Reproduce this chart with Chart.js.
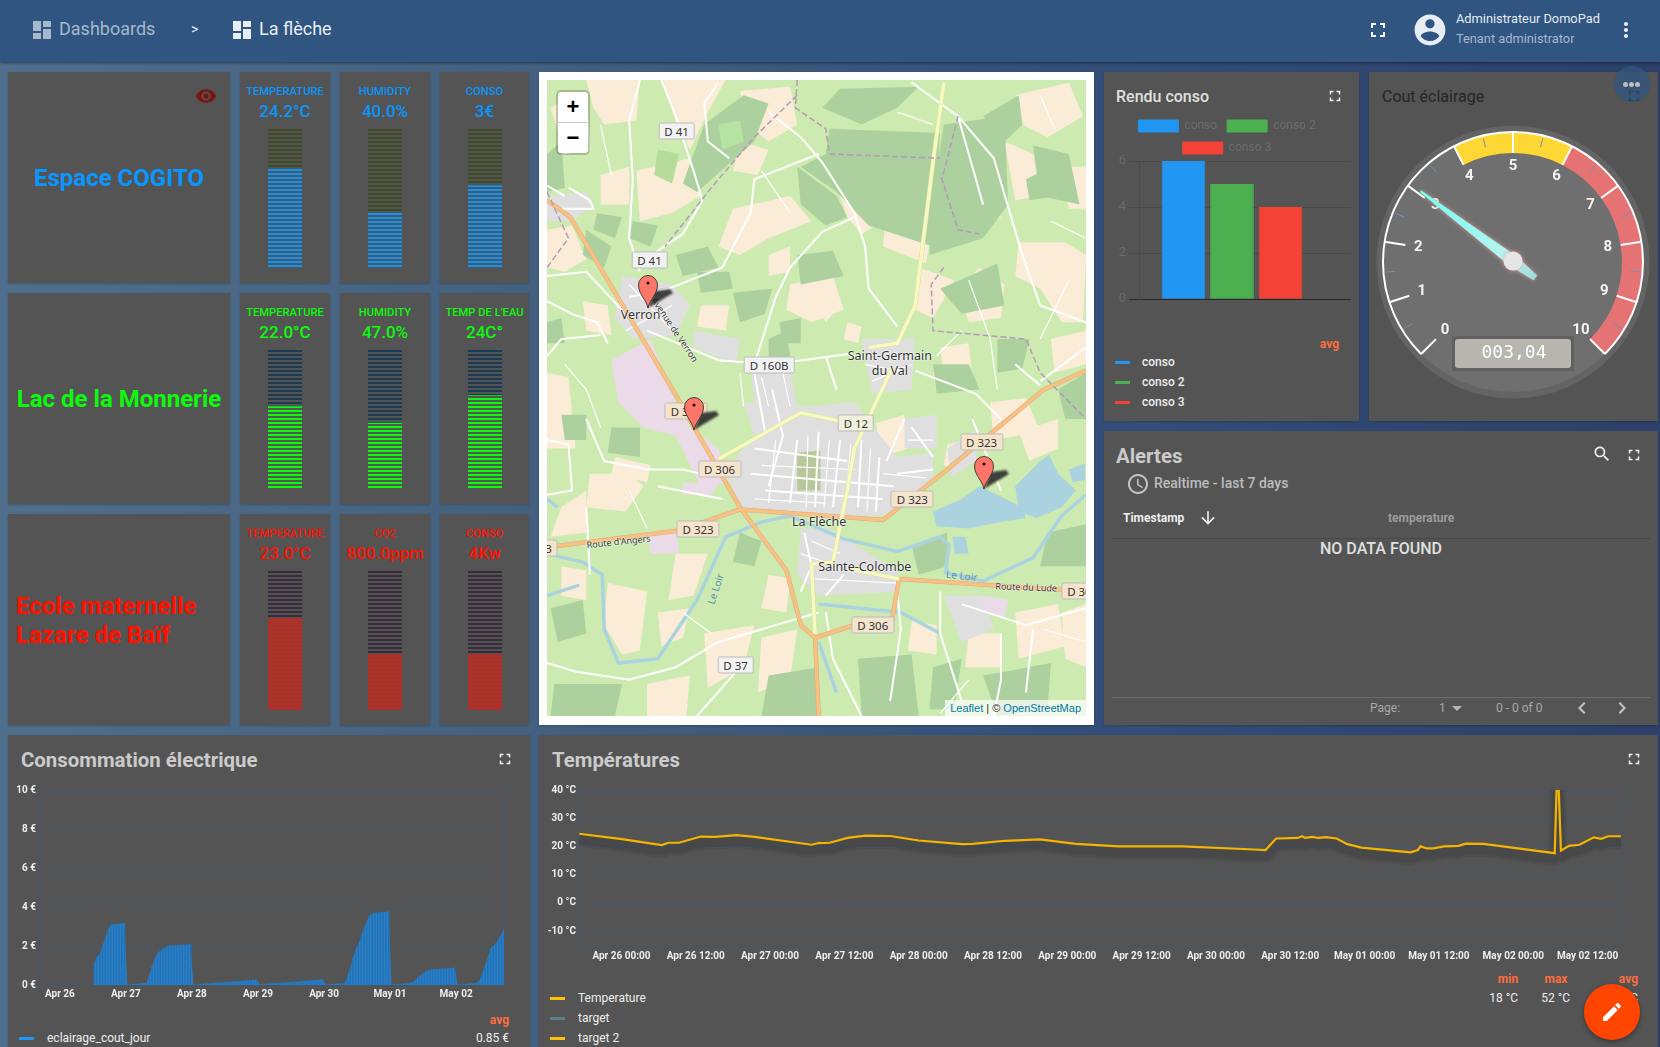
<!DOCTYPE html>
<html><head>
<meta charset="utf-8">
<title>La flèche</title>
<script src="https://cdn.jsdelivr.net/npm/chart.js@4"></script>
<style>
html,body{margin:0;padding:0;width:1660px;height:1047px;overflow:hidden;font-family:Roboto,sans-serif}
#page{position:absolute;left:0;top:0;width:1660px;height:1047px;overflow:hidden;background:linear-gradient(90deg,#4f6f8d 0,#456180 30%,#33507a 62%,#2c4069 100%)}
#top{position:absolute;left:0;top:0;width:1660px;height:62px;background:#2f5580;box-shadow:0 1px 3px rgba(0,0,0,.45)}
.card{position:absolute;background:#535453;box-shadow:0 1px 2px rgba(0,0,0,.2)}
.t{position:absolute;white-space:nowrap;transform:translateY(-50%);line-height:1}
.c{transform:translate(-50%,-50%)}
.r{transform:translate(-100%,-50%)}
canvas{position:absolute;display:block}
svg.i{position:absolute;transform:translate(-50%,-50%)}
#map{position:absolute;left:547px;top:80px;width:539px;height:636px;overflow:hidden;background:#cdebb0}
#map svg{position:absolute}
#map path,#map polyline{vector-effect:non-scaling-stroke}
.shield{position:absolute;transform:translate(-50%,-50%);font:11.5px "Noto Sans";color:#333;padding:0 5px;height:15px;line-height:15px;border:1px solid #bbb;border-radius:2px;white-space:nowrap}
.place{position:absolute;transform:translate(-50%,-50%);font:12.5px "Noto Sans";color:#333;white-space:nowrap;text-shadow:0 0 2px #fff,0 0 2px #fff}
</style>
</head><body>
<div id="page">
<div id="top"></div>
<div class="card" style="left:539px;top:72px;width:555px;height:653px;background:#fff"></div>
<div id="map"><svg viewBox="20 24 1508 1512" preserveAspectRatio="none" style="left:0;top:0;width:539px;height:636px">
<g fill="#fbecd7">
<path d="M130 24L280 24 270 120 180 130 150 90Z"/><path d="M345 24L520 24 470 100 420 190 380 120Z"/><path d="M560 50L700 40 720 130 640 170 580 130Z"/>
<path d="M20 380L90 370 130 450 70 480 20 470Z"/><path d="M270 240L420 210 450 300 370 340 280 360Z"/><path d="M540 330L700 300 760 360 640 400 560 440 500 420Z"/>
<path d="M840 300L920 270 980 350 900 390 860 350Z"/><path d="M970 330L1100 360 1080 460 960 420Z"/><path d="M700 510L820 490 850 570 760 600 690 570Z"/>
<path d="M1060 470L1160 500 1100 590 1050 570Z"/><path d="M1180 280L1260 290 1290 350 1220 370Z"/><path d="M1330 60L1480 30 1520 110 1420 160 1350 130Z"/>
<path d="M1340 410L1470 410 1528 440 1520 600 1460 600 1400 520 1330 490Z"/><path d="M1230 470L1300 510 1290 590 1200 600 1170 520Z"/><path d="M1300 170L1380 200 1400 300 1330 310Z"/>
<path d="M20 720L80 730 100 900 20 900Z"/><path d="M140 960L250 960 290 990 240 1050 130 1040Z"/><path d="M60 1040L130 1000 130 1100 30 1110Z"/>
<path d="M190 1220L300 1240 280 1380 230 1390 180 1320Z"/><path d="M380 1150L470 1150 430 1250 360 1260Z"/><path d="M460 1340L600 1320 570 1420 470 1470Z"/>
<path d="M620 1350L720 1330 700 1450 610 1480Z"/><path d="M1330 1290L1450 1270 1470 1370 1340 1400Z"/><path d="M1460 1290L1528 1270 1528 1420 1470 1400Z"/>
<path d="M1260 790L1360 780 1400 860 1270 880Z"/><path d="M1430 640L1528 620 1528 700 1440 720Z"/><path d="M1000 360L1060 340 1090 400 1040 420Z"/>
<path d="M760 540L800 510 840 560 800 600Z"/><path d="M940 840L1020 820 1030 900 960 920Z"/><path d="M1120 660L1200 650 1210 730 1130 740Z"/>
<path d="M1100 720L1200 680 1180 760 1110 770Z"/><path d="M30 90L100 60 120 140 60 170Z"/><path d="M640 440L700 420 700 480 640 490Z"/><path d="M560 170L640 190 610 250 540 240Z"/><path d="M170 250L250 230 250 320 170 320Z"/><path d="M120 550L190 560 200 630 130 620Z"/>
<path d="M450 560L530 560 520 620 440 610Z"/><path d="M860 600L900 610 890 650 850 640Z"/><path d="M1140 890L1190 880 1160 950 1130 940Z"/><path d="M60 1180L130 1190 130 1260 60 1250Z"/><path d="M640 1200L700 1210 690 1290 620 1280Z"/><path d="M330 1290L420 1280 400 1350 340 1370Z"/>
<path d="M1200 1340L1290 1340 1290 1420 1190 1420Z"/><path d="M1040 1310L1110 1320 1110 1390 1030 1380Z"/><path d="M300 1460L420 1440 410 1536 300 1536Z"/><path d="M1340 860L1450 830 1450 900 1370 930Z"/><path d="M1460 230L1528 230 1528 330 1480 330Z"/><path d="M210 920L310 940 300 980 200 960Z"/>
</g>
<g fill="#add19e">
<path d="M810 140L1120 150 1100 420 920 370 830 290 730 230 800 200Z"/><path d="M1130 130L1300 110 1310 320 1240 400 1090 440 1100 300Z"/><path d="M20 200L60 170 70 280 20 290Z"/>
<path d="M460 130L570 60 640 80 600 170 520 230 440 290 400 270Z"/><path d="M840 45L1060 40 1000 90 900 130 790 90Z"/><path d="M260 360L330 370 310 420 250 400Z"/>
<path d="M160 340L230 350 210 400 150 380Z"/><path d="M380 440L470 420 500 470 400 490Z"/><path d="M540 530L650 520 630 580 560 600Z"/><path d="M720 440L820 430 850 490 730 510Z"/>
<path d="M200 850L280 850 280 920 190 910Z"/><path d="M30 1280L120 1260 130 1340 50 1360Z"/><path d="M1380 180L1480 200 1510 320 1400 300Z"/><path d="M1120 520L1280 460 1300 560 1180 580Z"/>
<path d="M1040 1130L1140 1100 1140 1180 1060 1200Z"/><path d="M1420 1100L1528 1080 1528 1180 1400 1180Z"/><path d="M640 1440L780 1420 780 1536 620 1536Z"/><path d="M40 1460L230 1460 210 1536 30 1536Z"/>
<path d="M890 1400L1040 1390 1060 1536 900 1536Z"/><path d="M1240 1440L1430 1410 1420 1520 1280 1536Z"/><path d="M1100 700L1200 700 1230 760 1110 770Z"/><path d="M60 820L130 820 130 880 70 880Z"/>
<path d="M1360 260L1430 230 1450 300 1370 310Z"/><path d="M1450 760L1528 720 1528 830 1470 830Z"/><path d="M670 600L730 590 730 650 680 650Z"/><path d="M560 1100L620 1120 600 1180 540 1170Z"/><path d="M20 600L60 590 70 650 20 650Z"/><path d="M1280 640L1370 640 1350 710 1280 720Z"/><path d="M440 480L530 480 540 520 450 530Z"/><path d="M1100 1420L1180 1400 1160 1520 1090 1520Z"/>
<path d="M720 230L830 300 860 350 800 370 730 320Z"/><path d="M1240 110L1340 60 1350 130 1300 170Z"/><path d="M640 640L690 620 700 680 640 690Z"/><path d="M130 380L200 420 180 470 120 440Z"/>
<path d="M330 190L390 200 370 270 320 250Z" fill="#b5dc9a"/><path d="M500 130L560 120 570 170 510 190Z" fill="#b5e3a3"/>
</g>
<g fill="#e0dfdf">
<path d="M570 790L750 800 880 790 1000 920 1100 910 1100 980 980 1060 840 1060 560 1040 520 950 600 870Z"/><path d="M730 1090L810 1090 1000 1190 1010 1240 780 1250 720 1200Z"/>
<path d="M230 490L370 510 420 560 380 630 260 640 210 590Z"/><path d="M900 640L1050 640 1040 760 930 770Z"/><path d="M430 620L560 640 550 700 430 660Z"/><path d="M1130 1250L1240 1250 1270 1330 1180 1360Z"/><path d="M1020 830L1110 820 1110 900 1020 900Z"/><path d="M1140 900L1230 850 1220 930 1150 970Z"/><path d="M20 300L130 290 150 320 90 360 20 360Z"/><path d="M590 710L700 710 720 800 600 790Z"/>
</g>
<g fill="#ebdbe8">
<path d="M200 690L310 640 380 790 420 850 500 900 530 980 450 990 380 870 290 850 220 790Z"/><path d="M400 980L500 985 480 1010 400 1010Z"/><path d="M300 1100L380 1090 390 1150 310 1150Z"/><path d="M1240 1250L1310 1260 1300 1300 1240 1290Z"/>
</g>
<g fill="#b9c89a"><path d="M720 910L785 905 785 1000 720 1000Z"/></g>
<g fill="#aad3df">
<path d="M1100 1050L1180 1020 1230 990 1280 1010 1350 1040 1360 1065 1290 1075 1200 1090 1110 1085Z"/><path d="M1330 990L1400 930 1425 915 1450 960 1500 1000 1460 1040 1390 1065 1340 1050Z"/><path d="M1480 950L1525 935 1525 975 1490 980Z"/><path d="M1155 1110L1190 1110 1200 1150 1160 1150Z"/>
</g>
<g fill="none" stroke="#aad3df" stroke-width="3.5">
<path d="M20 1150L120 1170 175 1200 180 1330 220 1410 330 1400 440 1260 520 1110 620 1075 700 1060 850 1115 1000 1145 1120 1110 1145 1130 1135 1195 1240 1215 1380 1160 1460 1060 1528 1010"/>
<path d="M20 1250L110 1225M780 1270L1010 1290 1120 1340M20 1020L50 1040M780 1360L830 1480"/>
</g>
<g fill="none" stroke="#fff" stroke-width="2">
<path d="M340 24L380 110 430 240 455 310 400 390 330 430 300 470"/><path d="M280 24L250 120 260 260 250 400 280 480"/><path d="M20 275L70 300M80 280L140 310 150 330 60 330"/><path d="M500 30L460 80 470 170 530 210"/>
<path d="M640 100L730 160 790 220 880 340 910 420 920 520 1000 610"/><path d="M880 350L790 385 700 470 660 540 600 700"/><path d="M780 200L600 260 590 340 510 470 360 520 250 540"/><path d="M1040 30L1170 110 1270 210 1350 440 1400 560 1528 600"/>
<path d="M1170 110L1240 320"/><path d="M300 620L500 690 650 700 870 675"/><path d="M1050 715L1220 770 1290 830"/><path d="M20 490L130 480 240 580"/><path d="M20 550L90 580 160 600 190 650"/><path d="M20 680L60 640 170 630"/><path d="M130 830L180 930 300 950 400 950 450 960"/>
<path d="M20 880L80 890 90 1000 20 1010"/><path d="M130 1040L140 1200M330 990L510 1020"/><path d="M20 1410L100 1430 250 1450 380 1420 500 1360 660 1320 780 1290"/><path d="M440 1536L560 1420"/><path d="M1120 1240L1120 1340 1180 1500"/><path d="M1180 1270L1360 1320 1528 1280"/>
<path d="M1000 1240L1010 1330 980 1500"/><path d="M800 1290L820 1400 900 1536"/><path d="M1290 1340L1290 1450 1270 1536"/><path d="M1380 1330L1360 1480"/><path d="M1210 830L1290 1000M1020 830L970 930"/><path d="M800 680L830 760"/><path d="M1400 740L1528 660"/>
<path d="M600 720L630 860M650 760L680 870 640 990M720 880L700 1030M780 860L770 1040M840 880L820 1040M900 880L890 1040M950 920L940 1050M600 900L860 930M590 960L990 990M630 1000L960 1020M1000 960L1100 950M1040 850L1100 920"/>
<path d="M740 1100L760 1180 730 1240M850 1200L800 1250M1330 700L1400 750"/>
</g>
<g fill="none" stroke="#fff" stroke-width="1.2">
<path d="M560 720L570 800M620 730L640 800M680 720L700 800M660 880L640 1030M750 870L745 1040M810 880L795 1040M870 890L855 1040M925 900L915 1050M620 940L880 950M600 1020L800 1030M960 960L1080 970M990 1000L1070 1000M1030 880L1100 880"/>
<path d="M760 1120L840 1150M770 1210L1000 1220M730 1150L830 1180M910 700L1030 720M930 740L1040 700M250 510L370 620M240 620L370 560"/>
<path d="M60 200L140 190 130 60M170 130L200 250M620 240L700 340M1000 100L1100 130M1200 500L1260 640 1280 760M1430 360L1528 400M1440 140L1400 60M1480 500L1400 640M1180 620L1110 680M70 700L130 760 170 850M250 1000L300 1090M400 1290L480 1340M1410 1330L1528 1360M1200 1450L1120 1530"/>
</g>
<g fill="none" stroke-linejoin="round">
<path stroke="#d9ad7a" stroke-width="4.5" d="M20 310L85 350 260 600 385 780 560 1040 690 1190 730 1320 770 1350 780 1536M20 1135L390 1095 560 1045 960 1070 1140 950 1410 760 1528 715M1000 1210L1528 1240M770 1350L880 1320 985 1310 1005 1210"/>
<path stroke="#f9c083" stroke-width="3.5" d="M20 310L85 350 260 600 385 780 560 1040 690 1190 730 1320 770 1350 780 1536M20 1135L390 1095 560 1045 960 1070 1140 950 1410 760 1528 715M1000 1210L1528 1240M770 1350L880 1320 985 1310 1005 1210"/>
<path stroke="#dadda6" stroke-width="4.5" d="M1130 30L1100 220 1050 560 1000 650 920 660M985 710L880 900 860 1000 820 1170 760 1175 770 1340M500 925L730 815 840 835M1005 1210L860 1185"/>
<path stroke="#f7fabf" stroke-width="3.5" d="M1130 30L1100 220 1050 560 1000 650 920 660M985 710L880 900 860 1000 820 1170 760 1175 770 1340M500 925L730 815 840 835M1005 1210L860 1185"/>
</g>
<g fill="none" stroke="#b59ab8" stroke-width="1.5" stroke-dasharray="6 3">
<path d="M720 24L715 90 800 140 810 200 1120 210M1170 110L1125 260 1170 380 1230 390M1130 470L1095 510 1100 620 1360 640 1400 720 1528 830M20 290L80 400 20 470M720 60L600 160 480 280 350 420"/>
</g>
</svg></div>
<div id="labels"></div>
</div>
<script>
// ---- data ----
const tileTitles = ['Espace COGITO', 'Lac de la Monnerie', 'Ecole maternelle', 'Lazare de Baïf'];
const tileLabels = [['TEMPERATURE', 'HUMIDITY', 'CONSO'], ['TEMPERATURE', 'HUMIDITY', 'TEMP DE L\'EAU'], ['TEMPERATURE', 'CO2', 'CONSO']];
const tileValues = [['24.2°C', '40.0%', '3€'], ['22.0°C', '47.0%', '24C°'], ['23.0°C', '800.0ppm', '4Kw']];
const tileLevels = [[71, 39, 59], [59, 47, 67], [65, 39, 39]];
const tileColors = ['#0a96ff', '#0dfa0d', '#ff1100'];
const tileTracks = ['#3e4a22', '#1b3a55', '#3a2a3e'];

const renduNames = ['conso', 'conso 2', 'conso 3'];
const renduValues = [6, 5, 4];
const renduColors = ['#2196f3', '#4caf50', '#f44336'];

const gaugeValue = 3.04;
const gaugeTicks = [0, 1, 2, 3, 4, 5, 6, 7, 8, 9, 10];
const gaugeZones = [4, 2, 4];
const gaugeZoneColors = ['rgba(0,0,0,0)', '#fdd835', '#e57373'];

// cost per hour, from Apr 26 12:00 (hours counted from Apr 26 00:00)
const consFirstHour = 12;
const consValues = [
  1.1, 1.45, 1.6, 2.0, 2.4, 2.8, 3.1, 3.12, 3.13, 3.14, 3.16, 3.18,
  0.02, 0.03, 0.04, 0.05, 0.07, 0.08, 0.09, 0.1, 0.5, 0.95, 1.35, 1.65, 1.75, 1.85, 1.95, 2.0, 2.02, 2.03, 2.04, 2.05, 2.06, 2.07, 2.08, 2.1,
  0.02, 0.03, 0.04, 0.05, 0.06, 0.07, 0.08, 0.09, 0.11, 0.12, 0.13, 0.14, 0.15, 0.16, 0.17, 0.18, 0.19, 0.2, 0.21, 0.22, 0.24, 0.25, 0.26, 0.28,
  0.02, 0.03, 0.05, 0.06, 0.07, 0.08, 0.09, 0.1, 0.11, 0.13, 0.14, 0.14, 0.16, 0.17, 0.18, 0.19, 0.2, 0.21, 0.22, 0.24, 0.25, 0.26, 0.27, 0.29,
  0.02, 0.03, 0.04, 0.05, 0.06, 0.07, 0.08, 0.08, 0.45, 0.85, 1.4, 1.8, 2.1, 2.5, 2.9, 3.25, 3.55, 3.65, 3.7, 3.72, 3.73, 3.74, 3.75, 3.77,
  0.02, 0.03, 0.04, 0.05, 0.06, 0.07, 0.09, 0.12, 0.15, 0.3, 0.45, 0.55, 0.65, 0.72, 0.78, 0.8, 0.81, 0.82, 0.83, 0.84, 0.85, 0.86, 0.87, 0.88,
  0.02, 0.03, 0.04, 0.05, 0.06, 0.08, 0.09, 0.1, 0.25, 0.6, 1.0, 1.4, 1.85, 2.0, 2.15, 2.4, 2.6, 2.9
];
const consTickHours = [0, 24, 48, 72, 96, 120, 144];
const consTickLabels = ['Apr 26', 'Apr 27', 'Apr 28', 'Apr 29', 'Apr 30', 'May 01', 'May 02'];
const consYTicks = [0, 2, 4, 6, 8, 10];

const tempHours = [-6.8, 0.1, 6.5, 7.6, 9.3, 12.8, 15.1, 18.6, 21.5, 30.7, 31.8, 33.6, 36.5, 39.4, 43.4, 48, 55, 56.7, 61.9, 67.6, 73.4, 80.3, 90.7, 102.2, 104, 105.7, 109.2, 109.9, 110.4, 111.6, 112.5, 113.8, 115.5, 117.2, 119.5, 127.4, 128.6, 129, 130, 131.1, 132.8, 135.2, 136.3, 139.2, 150.7, 151.15, 151.7, 153, 154.7, 157, 158.2, 159.3, 161.4];
const tempValues = [24.5, 22.6, 20.5, 21.3, 21.3, 23.5, 23.4, 24, 23.4, 20.6, 21.2, 21.3, 23, 23.8, 23.7, 22.1, 20.8, 20.9, 22, 22.5, 20.9, 20, 20, 18.9, 18.7, 22.8, 23, 23.6, 23, 23.4, 23, 23.3, 22.8, 20.8, 19.6, 17.9, 18.7, 20, 19.3, 19.3, 20, 20.2, 21, 20.9, 17.6, 52, 18.5, 20.2, 20.6, 23.2, 22.7, 23.6, 23.6];
const tempTickHours = [0, 12, 24, 36, 48, 60, 72, 84, 96, 108, 120, 132, 144, 156];
const tempTickLabels = ['Apr 26 00:00', 'Apr 26 12:00', 'Apr 27 00:00', 'Apr 27 12:00', 'Apr 28 00:00', 'Apr 28 12:00', 'Apr 29 00:00', 'Apr 29 12:00', 'Apr 30 00:00', 'Apr 30 12:00', 'May 01 00:00', 'May 01 12:00', 'May 02 00:00', 'May 02 12:00'];
const tempYTicks = [-10, 0, 10, 20, 30, 40];

// ---- small helpers ----
const page = document.getElementById('page');
const ICONS = {
  full: 'M7 14H5v5h5v-2H7v-3zm-2-4h2V7h3V5H5v5zm12 7h-3v2h5v-5h-2v3zM14 5v2h3v3h2V5h-5z',
  dash: 'M3 13h8V3H3v10zm0 8h8v-6H3v6zm10 0h8V11h-8v10zm0-18v6h8V3h-8z',
  search: 'M15.5 14h-.79l-.28-.27C15.41 12.59 16 11.11 16 9.5 16 5.91 13.09 3 9.5 3S3 5.91 3 9.5 5.91 16 9.5 16c1.61 0 3.09-.59 4.23-1.57l.27.28v.79l5 4.99L20.49 19l-4.99-5zm-6 0C7.01 14 5 11.99 5 9.5S7.01 5 9.5 5 14 7.01 14 9.5 11.99 14 9.5 14z',
  clock: 'M11.99 2C6.47 2 2 6.48 2 12s4.47 10 9.99 10C17.52 22 22 17.52 22 12S17.52 2 11.99 2zM12 20c-4.42 0-8-3.58-8-8s3.58-8 8-8 8 3.58 8 8-3.58 8-8 8zm.5-13H11v6l5.25 3.15.75-1.23-4.5-2.67z',
  down: 'M20 12l-1.41-1.41L13 16.17V4h-2v12.17l-5.58-5.59L4 12l8 8 8-8z',
  pencil: 'M3 17.25V21h3.75L17.81 9.94l-3.75-3.75L3 17.25zM20.71 7.04c.39-.39.39-1.02 0-1.41l-2.34-2.34c-.39-.39-1.02-.39-1.41 0l-1.83 1.83 3.75 3.75 1.83-1.83z',
  eye: 'M12 4.5C7 4.5 2.73 7.61 1 12c1.73 4.39 6 7.5 11 7.5s9.27-3.11 11-7.5c-1.73-4.39-6-7.5-11-7.5zM12 17c-2.76 0-5-2.24-5-5s2.24-5 5-5 5 2.24 5 5-2.24 5-5 5zm0-8c-1.66 0-3 1.34-3 3s1.34 3 3 3 3-1.34 3-3-1.34-3-3-3z',
  dots: 'M12 8c1.1 0 2-.9 2-2s-.9-2-2-2-2 .9-2 2 .9 2 2 2zm0 2c-1.1 0-2 .9-2 2s.9 2 2 2 2-.9 2-2-.9-2-2-2zm0 6c-1.1 0-2 .9-2 2s.9 2 2 2 2-.9 2-2-.9-2-2-2z',
  user: 'M12 2C6.48 2 2 6.48 2 12s4.48 10 10 10 10-4.48 10-10S17.52 2 12 2zm0 3c1.66 0 3 1.34 3 3s-1.34 3-3 3-3-1.34-3-3 1.34-3 3-3zm0 14.2c-2.5 0-4.71-1.28-6-3.22.03-1.99 4-3.08 6-3.08 1.99 0 5.97 1.09 6 3.08-1.29 1.94-3.5 3.22-6 3.22z',
  left: 'M15.41 7.41L14 6l-6 6 6 6 1.41-1.41L10.83 12z',
  right: 'M10 6L8.59 7.41 13.17 12l-4.58 4.59L10 18l6-6z'
};
function card(x, y, w, h) {
  const d = document.createElement('div');
  d.className = 'card';
  d.style.cssText = `left:${x}px;top:${y}px;width:${w}px;height:${h}px`;
  page.appendChild(d);
}
function txt(x, y, s, css, cls) {
  const d = document.createElement('div');
  d.className = 't ' + (cls || '');
  d.textContent = s;
  d.style.cssText = `left:${x}px;top:${y}px;${css || ''}`;
  page.appendChild(d);
  return d;
}
function icon(name, x, y, size, color) {
  page.insertAdjacentHTML('beforeend', `<svg class="i" style="left:${x}px;top:${y}px" width="${size}" height="${size}" viewBox="0 0 24 24"><path fill="${color}" d="${ICONS[name]}"/></svg>`);
}
function box(x, y, w, h, color) {
  const d = document.createElement('div');
  d.style.cssText = `position:absolute;left:${x}px;top:${y}px;width:${w}px;height:${h}px;background:${color}`;
  page.appendChild(d);
}
function addCanvas(x, y, w, h) {
  const c = document.createElement('canvas');
  c.width = w; c.height = h;
  c.style.cssText = `left:${x}px;top:${y}px;width:${w}px;height:${h}px`;
  page.appendChild(c);
  return c;
}
function stripes(ctx, color) {
  const p = document.createElement('canvas');
  p.width = 4; p.height = 4;
  const g = p.getContext('2d');
  g.fillStyle = color;
  g.fillRect(0, 0, 4, 2);
  return ctx.createPattern(p, 'repeat');
}

Chart.defaults.font.family = 'Roboto';
Chart.defaults.animation = false;

// ---- header ----
icon('dash', 42, 30, 24, '#a6b8cd');
txt(59, 29, 'Dashboards', 'font-size:18px;color:#a6b8cd');
txt(191, 29, '>', 'font-size:14px;color:#e8eef5');
icon('dash', 242, 30, 24, '#e8eef5');
txt(259, 29, 'La flèche', 'font-size:18px;color:#e8eef5');
icon('full', 1378, 30, 24, '#f4f6f9');
icon('user', 1430, 30, 37, '#e8edf4');
txt(1456, 19, 'Administrateur DomoPad', 'font-size:12.8px;color:#e4eaf2');
txt(1456, 38.5, 'Tenant administrator', 'font-size:12.8px;color:#a6b8cd');
icon('dots', 1626, 30, 24, '#f0f3f7');

// ---- left tiles ----
const rowTops = [72, 293, 514];
const tileXs = [240, 340, 440];
const tileWs = [90, 90, 89];
rowTops.forEach((top, r) => {
  card(8, top, 222, 211);
  tileXs.forEach((x, i) => {
    card(x, top, tileWs[i], 211);
    const mid = x + tileWs[i] / 2;
    txt(mid, top + 20, tileLabels[r][i], `font-size:11.2px;font-weight:500;color:${tileColors[r]}`, 'c');
    txt(mid, top + 39, tileValues[r][i], `font-size:17px;font-weight:500;color:${tileColors[r]}`, 'c');
    const cv = addCanvas(mid - 17, top + 57, 34, 138);
    const ctx = cv.getContext('2d');
    new Chart(cv, {
      type: 'bar',
      data: {
        labels: [tileLabels[r][i]],
        datasets: [
          { data: [tileLevels[r][i]], backgroundColor: stripes(ctx, tileColors[r]), barPercentage: 1, categoryPercentage: 1 },
          { data: [100 - tileLevels[r][i]], backgroundColor: stripes(ctx, tileTracks[r]), barPercentage: 1, categoryPercentage: 1 }
        ]
      },
      options: {
        responsive: false,
        plugins: { legend: { display: false }, tooltip: { enabled: false } },
        scales: { x: { display: false, stacked: true }, y: { display: false, stacked: true, min: 0, max: 100 } }
      }
    });
  });
});
txt(119, 178, tileTitles[0], 'font-size:24px;font-weight:700;color:#0a96ff', 'c');
txt(119, 399, tileTitles[1], 'font-size:24px;font-weight:700;color:#0dfa0d', 'c');
txt(16, 606, tileTitles[2], 'font-size:24px;font-weight:700;color:#ff1100');
txt(16, 635, tileTitles[3], 'font-size:24px;font-weight:700;color:#ff1100');
icon('eye', 206, 96, 22, '#7b1512');

// ---- map labels, pins, zoom control ----
const mapEl = document.getElementById('map');
const mx = z => (z - 20) / 2.8;
const my = z => (z - 24) / 2.376;
[['D 41', 383, 145, 0], ['D 41', 307, 452, 0], ['D 160B', 642, 701, 0], ['D 306', 410, 811, 1], ['D 12', 885, 840, 2], ['D 323', 1237, 884, 1], ['D 306', 503, 949, 1], ['D 323', 1043, 1020, 1], ['D 323', 443, 1091, 1], ['D 323', -10, 1136, 1], ['D 306', 932, 1319, 1], ['D 37', 548, 1414, 0], ['D 306', 1520, 1237, 1]].forEach(s => {
  const bg = ['#f2f2f2', '#f5e3cc', '#f0f0dc'][s[3]];
  mapEl.insertAdjacentHTML('beforeend', `<div class="shield" style="left:${mx(s[1])}px;top:${my(s[2])}px;background:${bg}">${s[0]}</div>`);
});
[['Verron', 282, 580, ''], ['Saint-Germain', 980, 677, ''], ['du Val', 980, 713, ''], ['La Flèche', 782, 1072, ''], ['Sainte-Colombe', 910, 1178, ''],
 ["Route d'Angers", 222, 1113, 'font-size:9px;rotate:-6deg'], ['Route du Lude', 1360, 1232, 'font-size:9px;rotate:2deg'], ['Avenue de Verron', 318, 685, 'font-size:9px;rotate:56deg'],
 ['Le Loir', 480, 1185, 'font-size:10px;color:#5a8fb0;rotate:-72deg;text-shadow:none'], ['Le Loir', 1178, 1205, 'font-size:10px;color:#5a8fb0;rotate:6deg;text-shadow:none']].forEach(s => {
  mapEl.insertAdjacentHTML('beforeend', `<div class="place" style="left:${mx(s[1])}px;top:${my(s[2])}px;${s[3]}">${s[0]}</div>`);
});
[[303, 565], [432, 855], [1244, 995]].forEach(p => {
  mapEl.insertAdjacentHTML('beforeend', `<svg style="left:${mx(p[0]) - 11}px;top:${my(p[1]) - 34}px;width:40px;height:36px" viewBox="0 0 40 36"><path d="M11 34L36 19 33 15 18 17Z" fill="#222" opacity=".85" style="filter:blur(1.2px)"/><path d="M11 34C9 25 1.500 20 1.500 11A9.500 9.500 0 0 1 20.500 11C20.500 20 13 25 11 34Z" fill="#fe7569" stroke="#222" stroke-width=".8"/><circle cx="11" cy="9" r="1.600" fill="#111"/></svg>`);
});
mapEl.insertAdjacentHTML('beforeend', `<div style="position:absolute;left:11px;top:12px;width:30px;height:61px;background:#fff;border-radius:3px;box-shadow:0 0 0 2px rgba(0,0,0,.2);font:700 22px 'Liberation Sans';color:#000;text-align:center;line-height:30px"><div style="height:30px;border-bottom:1px solid #ccc">+</div><div>−</div></div>
<div style="position:absolute;right:0;bottom:0;height:16px;line-height:16px;padding:0 5px;background:rgba(255,255,255,.7);font:11px/16px 'Liberation Sans';color:#333"><span style="color:#0078a8">Leaflet</span> | © <span style="color:#0078a8">OpenStreetMap</span></div>`);

// ---- rendu conso ----
card(1104, 72, 255, 349);
txt(1116, 97, 'Rendu conso', 'font-size:16px;font-weight:500;color:#e0e0e0');
icon('full', 1335, 96, 18, '#eee');
const renduCv = addCanvas(1103, 110, 248, 200);
const renduChart = new Chart(renduCv, {
  type: 'bar',
  data: {
    datasets: renduNames.map((n, i) => ({
      label: n,
      data: [{ x: 1, y: renduValues[i] }],
      backgroundColor: renduColors[i],
      borderColor: renduColors[i],
      borderWidth: 1,
      categoryPercentage: 0.687,
      barPercentage: 0.9
    }))
  },
  options: {
    responsive: false,
    layout: { autoPadding: false, padding: { bottom: 2 } },
    plugins: {
      tooltip: { enabled: false },
      legend: { position: 'top', labels: { color: '#6b6d6b', font: { size: 12 }, boxWidth: 40, boxHeight: 12 } }
    },
    scales: {
      x: {
        type: 'linear', offset: false, min: 0, max: 2.28, display: false, grid: { offset: false },
        afterBuildTicks(a) { a.ticks = [{ value: 0 }, { value: 2.28 }]; }
      },
      y: {
        min: 0, max: 6,
        afterFit(a) { a.width = 36; },
        afterBuildTicks(a) { a.ticks = [0, 2, 4, 6].map(v => ({ value: v })); },
        ticks: { color: '#6b6d6b', font: { size: 13 } },
        border: { color: 'rgba(0,0,0,.1)' },
        grid: { color: c => c.tick.value === 0 ? 'rgba(0,0,0,.55)' : 'rgba(0,0,0,.13)', tickLength: 10 }
      }
    }
  }
});
// the legend sits a little tighter on the plot than chart.js leaves it
const legendFit = renduChart.legend.fit;
renduChart.legend.fit = function () { legendFit.call(this); this.height -= 3; };
renduChart.update();
txt(1339, 344, 'avg', 'font-size:12px;font-weight:700;color:#ff6e40', 'r');
renduNames.forEach((n, i) => {
  box(1115, 361 + i * 20, 15, 3, renduColors[i]);
  txt(1142, 362 + i * 20, n, 'font-size:12px;font-weight:500;color:#eee');
});

// ---- gauge ----
card(1369, 72, 289, 349);
txt(1382, 97, 'Cout éclairage', 'font-size:16px;color:#262626');
const gaugeAngle = v => (-135 + v * 27 - 90) * Math.PI / 180;
const gaugeDressing = {
  id: 'gaugeDressing',
  beforeDatasetsDraw(chart) {
    const { ctx } = chart;
    const { x: cx, y: cy } = chart.getDatasetMeta(0).data[0];
    ctx.save();
    ctx.fillStyle = '#636463';
    ctx.beginPath(); ctx.arc(cx, cy, 136.5, 0, Math.PI * 2); ctx.fill();
    ctx.fillStyle = '#6e6f6e';
    ctx.beginPath(); ctx.arc(cx, cy, 130, 0, Math.PI * 2); ctx.fill();
    ctx.restore();
  },
  afterDatasetsDraw(chart) {
    const { ctx } = chart;
    const { x: cx, y: cy } = chart.getDatasetMeta(0).data[0];
    const R = 130;
    const at = (v, r) => [cx + Math.cos(gaugeAngle(v)) * r, cy + Math.sin(gaugeAngle(v)) * r];
    ctx.save();
    ctx.strokeStyle = '#fff';
    ctx.lineWidth = 2;
    ctx.beginPath(); ctx.arc(cx, cy, R, gaugeAngle(0), gaugeAngle(10)); ctx.stroke();
    gaugeTicks.forEach(v => {
      ctx.strokeStyle = '#fff'; ctx.lineWidth = 2;
      ctx.beginPath(); ctx.moveTo(...at(v, R)); ctx.lineTo(...at(v, R - 21)); ctx.stroke();
      if (v < 10) {
        ctx.strokeStyle = '#6f93b8'; ctx.lineWidth = 1;
        ctx.beginPath(); ctx.moveTo(...at(v + 0.5, R - 3)); ctx.lineTo(...at(v + 0.5, R - 12)); ctx.stroke();
      }
      ctx.fillStyle = '#f4f4f4';
      ctx.font = '700 15px Roboto';
      ctx.textAlign = 'center'; ctx.textBaseline = 'middle';
      const p = at(v, 96);
      ctx.fillText(String(v), p[0], p[1]);
    });
    // odometer
    const ox = cx - 58, oy = cy + 77;
    ctx.fillStyle = '#5f605f'; ctx.fillRect(ox - 3, oy - 3, 122, 35);
    ctx.fillStyle = '#b6b6ae';
    ctx.beginPath(); ctx.roundRect(ox, oy, 116, 29, 3); ctx.fill();
    ctx.fillStyle = '#fff';
    ctx.font = '18px "DejaVu Sans Mono"';
    ctx.textAlign = 'center';
    ctx.fillText('003,04', cx + 1, oy + 14);
    // needle
    const a = gaugeAngle(gaugeValue);
    ctx.translate(cx, cy - 1);
    ctx.rotate(a);
    const grad = ctx.createLinearGradient(-28, 0, 116, 0);
    grad.addColorStop(0, '#9fdede');
    grad.addColorStop(0.25, '#b9f3f2');
    grad.addColorStop(1, '#6ffff0');
    ctx.shadowColor = 'rgba(255,170,170,.7)'; ctx.shadowBlur = 4;
    ctx.fillStyle = grad;
    ctx.beginPath();
    ctx.moveTo(-28, -3); ctx.lineTo(0, -6); ctx.lineTo(116, -1); ctx.lineTo(116, 1); ctx.lineTo(0, 6); ctx.lineTo(-28, 3);
    ctx.closePath(); ctx.fill();
    ctx.rotate(-a);
    ctx.shadowColor = 'rgba(230,150,150,.8)'; ctx.shadowBlur = 5;
    ctx.fillStyle = '#e6e6e6';
    ctx.beginPath(); ctx.arc(0, 0, 9.5, 0, Math.PI * 2); ctx.fill();
    ctx.restore();
  }
};
// a 270 degree doughnut sits below the canvas centre (about 19px at this radius)
const gaugeCv = addCanvas(1513 - 150, 261 - 178, 300, 320);
new Chart(gaugeCv, {
  type: 'doughnut',
  data: { datasets: [{ data: gaugeZones, backgroundColor: gaugeZoneColors, borderWidth: 0 }] },
  options: {
    responsive: false,
    rotation: -135,
    circumference: 270,
    radius: 130,
    cutout: '83.8%',
    plugins: { legend: { display: false }, tooltip: { enabled: false } }
  },
  plugins: [gaugeDressing]
});
page.insertAdjacentHTML('beforeend', '<div style="position:absolute;left:1614px;top:66px;width:36px;height:36px;border-radius:50%;background:rgba(47,85,128,.75)"></div>');
icon('full', 1634, 96, 18, '#2b4260');
[-6, 0, 6].forEach(d => page.insertAdjacentHTML('beforeend', `<div style="position:absolute;left:${1629 + d}px;top:82px;width:5px;height:5px;border-radius:50%;background:#b9bcc0"></div>`));

// ---- alertes ----
card(1104, 431, 554, 294);
txt(1116, 456, 'Alertes', 'font-size:20.4px;font-weight:700;color:#cbcbcb');
icon('search', 1602, 454, 20, '#eee');
icon('full', 1634, 455, 18, '#eee');
icon('clock', 1138, 484, 24, '#c4c4c4');
txt(1154, 483, 'Realtime - last 7 days', 'font-size:14px;font-weight:500;color:#bdbdbd');
txt(1123, 518, 'Timestamp', 'font-size:12px;font-weight:700;color:#eee');
icon('down', 1208, 518, 20, '#eee');
txt(1388, 518, 'temperature', 'font-size:12px;font-weight:700;color:#9c9c9c');
box(1112, 538, 538, 1, '#474847');
txt(1381, 549, 'NO DATA FOUND', 'font-size:16px;font-weight:500;color:#e0e0e0', 'c');
box(1112, 697, 538, 1, '#6b6c6b');
txt(1370, 708, 'Page:', 'font-size:12px;color:#a9a9a9');
txt(1439, 708, '1', 'font-size:12px;color:#a9a9a9');
page.insertAdjacentHTML('beforeend', '<div style="position:absolute;left:1452px;top:706px;border-left:5px solid transparent;border-right:5px solid transparent;border-top:5px solid #b5b5b5"></div>');
txt(1496, 708, '0 - 0 of 0', 'font-size:12px;color:#a9a9a9');
icon('left', 1582, 708, 24, '#c4c4c4');
icon('right', 1622, 708, 24, '#c4c4c4');

// ---- bottom charts ----
const plotFrame = {
  id: 'plotFrame',
  beforeDatasetsDraw(chart) {
    const a = chart.chartArea, ctx = chart.ctx;
    ctx.save();
    ctx.strokeStyle = '#445668';
    ctx.lineWidth = 1;
    ctx.strokeRect(a.left + 0.5, a.top + 0.5, a.right - a.left, a.bottom - a.top);
    ctx.restore();
  }
};
const tickFont = { size: 10, weight: 700 };

card(8, 735, 522, 330);
txt(21, 760, 'Consommation électrique', 'font-size:20.4px;font-weight:700;color:#cbcbcb');
icon('full', 505, 759, 18, '#eee');
const consPoints = consValues.map((v, i) => ({ x: consFirstHour + i + 0.5, y: v }));
const consCv = addCanvas(8, 775, 522, 235);
new Chart(consCv, {
  type: 'bar',
  data: {
    datasets: [
      { label: 'eclairage_cout_jour', data: consPoints, backgroundColor: '#2472b6', barThickness: 0.9, borderWidth: 0, order: 0 },
      { type: 'line', label: 'eclairage_cout_jour area', data: consPoints, borderWidth: 0, pointRadius: 0, tension: 0, fill: 'origin', backgroundColor: '#2a80c8', order: 1 }
    ]
  },
  options: {
    responsive: false,
    layout: { padding: { top: 15, right: 26 } },
    plugins: { legend: { display: false }, tooltip: { enabled: false } },
    scales: {
      x: {
        type: 'linear', offset: false, min: -6.85, max: 161.4,
        afterFit(a) { a.height = 25; },
        afterBuildTicks(a) { a.ticks = consTickHours.map(v => ({ value: v })); },
        ticks: {
          autoSkip: false, maxRotation: 0, padding: 3, color: '#eee', font: tickFont,
          callback: v => consTickLabels[consTickHours.indexOf(v)]
        },
        border: { display: false },
        grid: { display: false, offset: false, tickLength: 0 }
      },
      y: {
        min: 0, max: 10,
        afterFit(a) { a.width = 33; },
        afterBuildTicks(a) { a.ticks = consYTicks.map(v => ({ value: v })); },
        ticks: { color: '#eee', font: tickFont, padding: 5, callback: v => v + ' €' },
        border: { display: false },
        grid: { color: '#445668', drawTicks: false }
      }
    }
  },
  plugins: [plotFrame]
});
txt(509, 1020, 'avg', 'font-size:12px;font-weight:700;color:#ff6e40', 'r');
box(19, 1037, 15, 3, '#2196f3');
txt(47, 1038, 'eclairage_cout_jour', 'font-size:12px;font-weight:400;color:#eee');
txt(509, 1038, '0.85 €', 'font-size:12px;font-weight:400;color:#eee', 'r');

card(539, 735, 1119, 330);
txt(552, 760, 'Températures', 'font-size:20.4px;font-weight:700;color:#cbcbcb');
icon('full', 1634, 759, 18, '#eee');
const lineShadow = {
  id: 'lineShadow',
  beforeDatasetDraw(chart, args) {
    const a = chart.chartArea, ctx = chart.ctx;
    const pts = args.meta.data;
    ctx.save();
    ctx.beginPath(); ctx.rect(a.left, a.top, a.right - a.left, a.bottom - a.top); ctx.clip();
    ctx.lineJoin = 'round';
    [[14, 'rgba(0,0,0,.07)'], [9, 'rgba(0,0,0,.08)']].forEach(s => {
      ctx.lineWidth = s[0];
      ctx.strokeStyle = s[1];
      ctx.beginPath();
      pts.forEach((p, i) => { if (i) ctx.lineTo(p.x, p.y + 6); else ctx.moveTo(p.x, p.y + 6); });
      ctx.stroke();
    });
    ctx.restore();
  }
};
const tempCv = addCanvas(539, 775, 1119, 196);
new Chart(tempCv, {
  type: 'line',
  data: {
    datasets: [{
      label: 'Temperature',
      data: tempHours.map((h, i) => ({ x: h, y: tempValues[i] })),
      borderColor: '#f5b400',
      borderWidth: 2.2,
      pointRadius: 0,
      tension: 0
    }]
  },
  options: {
    responsive: false,
    layout: { padding: { top: 15, right: 37 } },
    plugins: { legend: { display: false }, tooltip: { enabled: false } },
    scales: {
      x: {
        type: 'linear', min: -6.85, max: 161.4,
        afterFit(a) { a.height = 25; },
        afterBuildTicks(a) { a.ticks = tempTickHours.map(v => ({ value: v })); },
        ticks: {
          autoSkip: false, maxRotation: 0, padding: 4, color: '#eee', font: tickFont,
          callback: v => tempTickLabels[tempTickHours.indexOf(v)]
        },
        border: { display: false },
        grid: { display: false, tickLength: 0 }
      },
      y: {
        min: -15.3, max: 40,
        afterFit(a) { a.width = 40; },
        afterBuildTicks(a) { a.ticks = tempYTicks.map(v => ({ value: v })); },
        ticks: { color: '#eee', font: tickFont, padding: 3, callback: v => v + ' °C' },
        border: { display: false },
        grid: { color: '#445668', drawTicks: false }
      }
    }
  },
  plugins: [plotFrame, lineShadow]
});
[['Temperature', '#ffc107'], ['target', '#607d8b'], ['target 2', '#ffc107']].forEach((s, i) => {
  box(550, 997 + i * 20, 15, 3, s[1]);
  txt(578, 998 + i * 20, s[0], 'font-size:12px;font-weight:400;color:#eee');
});
txt(1508, 979, 'min', 'font-size:12px;font-weight:700;color:#ff6e40', 'c');
txt(1556, 979, 'max', 'font-size:12px;font-weight:700;color:#ff6e40', 'c');
txt(1638, 979, 'avg', 'font-size:12px;font-weight:700;color:#ff6e40', 'r');
txt(1518, 998, '18 °C', 'font-size:12px;font-weight:400;color:#eee', 'r');
txt(1570, 998, '52 °C', 'font-size:12px;font-weight:400;color:#eee', 'r');
txt(1638, 998, '21 °C', 'font-size:12px;font-weight:400;color:#eee', 'r');

// edit button
page.insertAdjacentHTML('beforeend', '<div style="position:absolute;left:1584px;top:984px;width:56px;height:56px;border-radius:50%;background:#ff4500;box-shadow:0 2px 5px rgba(0,0,0,.35)"></div>');
icon('pencil', 1612, 1012, 24, '#fff');
</script>
</body></html>
